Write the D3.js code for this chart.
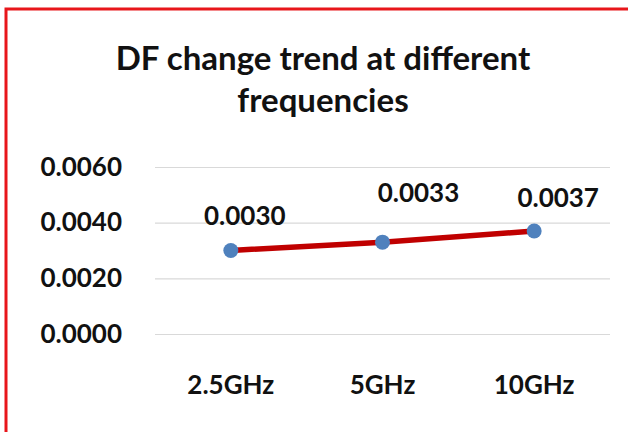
<!DOCTYPE html>
<html>
<head>
<meta charset="utf-8">
<script src="https://cdn.jsdelivr.net/npm/d3@7"></script>
<style>
  body { margin: 0; background: #fff; }
  text { font-family: Lato, "Open Sans", sans-serif; fill: #111; }
</style>
</head>
<body>
<svg id="chart"></svg>
<script>
// chart data
const categories = ["2.5GHz", "5GHz", "10GHz"];
const dfValues = [0.0030, 0.0033, 0.0037];
const yTicks = [0, 0.002, 0.004, 0.006];
const titleLines = ["DF change trend at different", "frequencies"];

const width = 628, height = 432;
const marginLeft = 155, marginRight = 18, marginTop = 167, marginBottom = 98;

const svg = d3.select("#chart")
    .attr("width", width)
    .attr("height", height)
    .attr("viewBox", [0, 0, width, height]);

// red frame (top and left edges visible)
svg.append("path")
    .attr("d", `M6,${height} V9 H${width}`)
    .attr("fill", "none")
    .attr("stroke", "#e8161b")
    .attr("stroke-width", 3);

const x = d3.scaleBand(categories, [marginLeft, width - marginRight]);
const y = d3.scaleLinear([0, 0.006], [height - marginBottom, marginTop]);

// title
svg.append("g")
  .selectAll("text")
  .data(titleLines)
  .join("text")
    .attr("x", 323)
    .attr("y", (d, i) => 70 + i * 42)
    .attr("text-anchor", "middle")
    .attr("font-size", 33)
    .attr("font-weight", 700)
    .text(d => d);

// y axis with gridlines
svg.append("g")
    .attr("transform", `translate(${marginLeft},0)`)
    .call(d3.axisLeft(y).tickValues(yTicks).tickFormat(d3.format(".4f")).tickSize(0).tickPadding(33))
    .call(g => g.select(".domain").remove())
    .call(g => g.selectAll(".tick line").clone()
        .attr("x2", width - marginLeft - marginRight)
        .attr("stroke", "#d9d9d9")
        .attr("stroke-width", 1.2))
    .call(g => g.selectAll(".tick text")
        .attr("font-size", 26)
        .attr("font-weight", 700)
        .attr("fill", "#111"));

// x axis labels
svg.append("g")
    .attr("transform", `translate(0,${height - marginBottom})`)
    .call(d3.axisBottom(x).tickSize(0).tickPadding(42))
    .call(g => g.select(".domain").remove())
    .call(g => g.selectAll(".tick text")
        .attr("font-size", 26)
        .attr("font-weight", 700)
        .attr("fill", "#111"));

const cx = (d, i) => x(categories[i]) + x.bandwidth() / 2;

// line
svg.append("path")
    .datum(dfValues)
    .attr("fill", "none")
    .attr("stroke", "#c00000")
    .attr("stroke-width", 5.5)
    .attr("d", d3.line().x(cx).y(d => y(d)));

// markers
svg.append("g")
    .attr("fill", "#4f81bd")
  .selectAll("circle")
  .data(dfValues)
  .join("circle")
    .attr("cx", cx)
    .attr("cy", d => y(d))
    .attr("r", 7.5);

// data labels
const labelDx = [14, 36, 24];
const labelDy = [-26, -40, -24];
svg.append("g")
  .selectAll("text")
  .data(dfValues)
  .join("text")
    .attr("x", (d, i) => cx(d, i) + labelDx[i])
    .attr("y", (d, i) => y(d) + labelDy[i])
    .attr("text-anchor", "middle")
    .attr("font-size", 26)
    .attr("font-weight", 700)
    .text(d => d3.format(".4f")(d));
</script>
</body>
</html>
